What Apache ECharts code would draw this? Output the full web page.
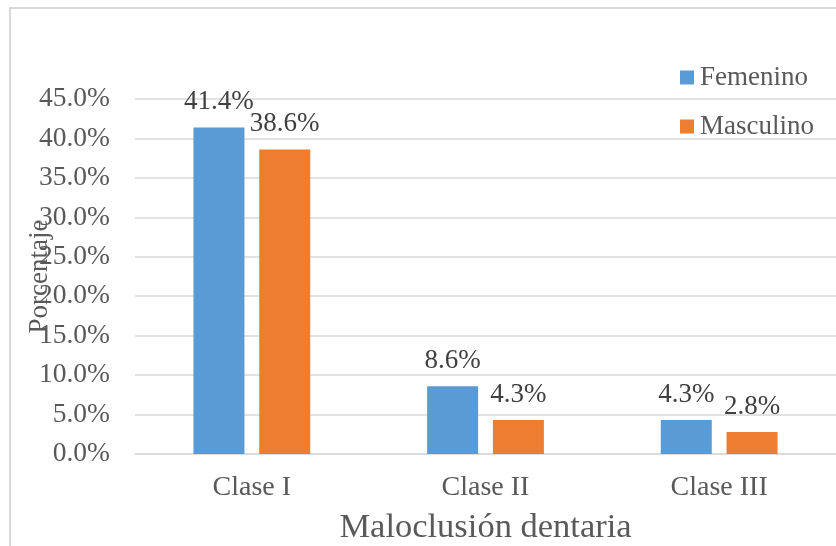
<!DOCTYPE html>
<html><head><meta charset="utf-8">
<script src="https://cdn.jsdelivr.net/npm/echarts@6/dist/echarts.min.js"></script>
<style>html,body{margin:0;padding:0;background:#fff}#c{width:836px;height:546px}</style>
</head><body><div id="c"></div>
<script>
const categories = ['Clase I', 'Clase II', 'Clase III'];
const femenino = [41.4, 8.6, 4.3];
const masculino = [38.6, 4.3, 2.8];
const seriesNames = ['Femenino', 'Masculino'];
const font = '"Liberation Serif", "Times New Roman", serif';
const chart = echarts.init(document.getElementById('c'));
const lbl = {show: true, position: 'top', distance: 12, color: '#404040', fontFamily: font, fontSize: 27, formatter: p => p.value.toFixed(1) + '%'};
chart.setOption({
  animation: false,
  graphic: [{type: 'rect', shape: {x: 10, y: 8, width: 900, height: 600}, style: {fill: 'none', stroke: '#d9d9d9', lineWidth: 2}, z: 0}],
  grid: {left: 135, right: 0, top: 99, bottom: 92, containLabel: false, outerBoundsMode: 'none'},
  legend: {
    orient: 'vertical', right: 17, top: 59, itemWidth: 14, itemHeight: 14, itemGap: 22,
    icon: 'rect',
    textStyle: {fontFamily: font, fontSize: 27, color: '#595959', padding: [0, 0, 0, 1]},
    data: seriesNames
  },
  xAxis: {
    type: 'category', data: categories,
    name: 'Maloclusión dentaria', nameLocation: 'middle', nameGap: 56, nameMoveOverlap: false,
    nameTextStyle: {fontFamily: font, fontSize: 34.5, color: '#595959'},
    axisLine: {lineStyle: {color: '#d9d9d9', width: 1.5}},
    axisTick: {show: false},
    axisLabel: {fontFamily: font, fontSize: 28, color: '#595959', margin: 20}
  },
  yAxis: {
    type: 'value', min: 0, max: 45, interval: 5,
    name: 'Porcentaje', nameLocation: 'middle', nameGap: 82, nameMoveOverlap: false,
    nameTextStyle: {fontFamily: font, fontSize: 27, color: '#595959'},
    axisLabel: {fontFamily: font, fontSize: 27.5, color: '#595959', margin: 25, formatter: v => v.toFixed(1) + '%'},
    splitLine: {lineStyle: {color: '#d9d9d9', width: 1.5}},
    axisLine: {show: false}, axisTick: {show: false}
  },
  series: [
    {name: seriesNames[0], type: 'bar', data: femenino, barWidth: 51, barGap: '29%', itemStyle: {color: '#5B9BD5'}, label: lbl},
    {name: seriesNames[1], type: 'bar', data: masculino, barWidth: 51, itemStyle: {color: '#ED7D31'}, label: lbl}
  ]
});
</script></body></html>
